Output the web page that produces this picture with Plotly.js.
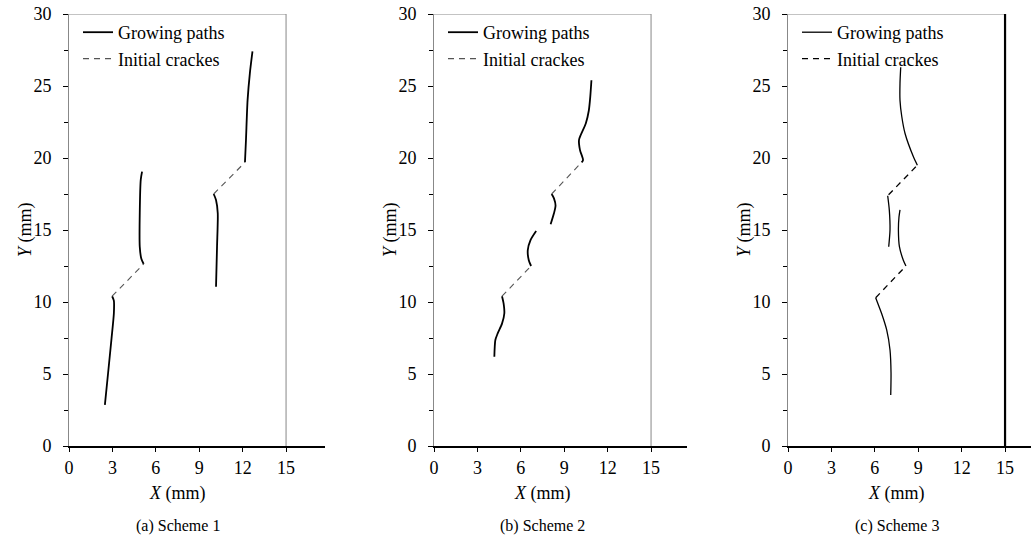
<!DOCTYPE html>
<html>
<head>
<meta charset="utf-8">
<script src="https://cdn.plot.ly/plotly-3.0.1.min.js"></script>
<style>
html,body{margin:0;padding:0;background:#fff;}
#chart{width:1031px;height:540px;}
</style>
</head>
<body>
<div id="chart"></div>
<script>
// ---- data (mm) ----
const specimenW = 15;
const specimenH = 30;

const aGrowX = [2.48, 2.70, 2.94, 3.10, 3.10, 2.98, null, 5.16, 5.00, 4.89, 4.89, 4.96, 5.05, null, 10.16, 10.23, 10.28, 10.16, 10.00, null, 12.16, 12.23, 12.34, 12.50, 12.68];
const aGrowY = [2.85, 5.05, 7.48, 9.20, 10.10, 10.40, null, 12.64, 13.00, 13.84, 16.20, 18.50, 19.05, null, 11.06, 13.84, 16.16, 17.08, 17.50, null, 19.70, 21.25, 24.00, 25.90, 27.40];
const aInitX = [2.98, 5.16, null, 10.00, 12.16];
const aInitY = [10.40, 12.64, null, 17.50, 19.70];

const bGrowX = [4.17, 4.24, 4.40, 4.70, 4.86, 4.81, 4.70, null, 6.71, 6.55, 6.48, 6.67, 7.06, null, 8.06, 8.29, 8.40, 8.29, 8.13, null, 10.20, 10.30, 10.09, 10.02, 10.14, 10.49, 10.70, 10.80, 10.88];
const bGrowY = [6.20, 7.36, 7.82, 8.50, 9.20, 9.90, 10.40, null, 12.50, 12.90, 13.60, 14.30, 14.93, null, 15.40, 16.16, 16.70, 17.20, 17.50, null, 19.70, 19.86, 20.55, 21.25, 21.60, 22.40, 23.30, 24.26, 25.40];
const bInitX = [4.70, 6.71, null, 8.13, 10.20];
const bInitY = [10.40, 12.50, null, 17.50, 19.70];

const cGrowX = [7.10, 7.12, 7.05, 6.82, 6.47, 6.17, 6.06, null, 8.15, 7.97, 7.70, 7.63, 7.67, 7.74, null, 6.96, 7.05, 7.00, 6.89, null, 8.94, 8.66, 8.09, 7.86, 7.74, 7.74, 7.79];
const cGrowY = [3.54, 5.05, 6.67, 8.06, 9.20, 10.00, 10.30, null, 12.50, 12.90, 13.84, 15.00, 15.90, 16.40, null, 13.84, 15.00, 16.40, 17.38, null, 19.50, 20.10, 21.70, 22.90, 24.00, 25.20, 26.30];
const cInitX = [6.06, 8.15, null, 6.95, 8.94];
const cInitY = [10.30, 12.50, null, 17.45, 19.50];

const xTickVals = [0, 3, 6, 9, 12, 15];
const yTickVals = [0, 5, 10, 15, 20, 25, 30];
const captions = ['(a) Scheme 1', '(b) Scheme 2', '(c) Scheme 3'];
const seriesNames = ['Growing paths', 'Initial crackes'];

// ---- layout constants ----
const W = 1031, H = 540;
const mT = 14, mB = 94;
const plotH = H - mT - mB;           // 432 px for 30 mm
const pxPerMM = 14.47;
const panels = [
  {left: 69, right: 325, grow: [aGrowX, aGrowY], init: [aInitX, aInitY], gw: 1.8, iw: 1.1, ic: '#555', rightW: 1, rightC: '#888'},
  {left: 434, right: 687, grow: [bGrowX, bGrowY], init: [bInitX, bInitY], gw: 1.8, iw: 1.1, ic: '#555', rightW: 1, rightC: '#888'},
  {left: 788, right: 1031, grow: [cGrowX, cGrowY], init: [cInitX, cInitY], gw: 1.3, iw: 1.3, ic: '#000', rightW: 2.2, rightC: '#000'}
];

const FONT = 'Liberation Serif';
const data = [];
const layout = {
  width: W, height: H,
  margin: {l: 0, r: 0, t: mT, b: mB, pad: 0},
  paper_bgcolor: '#fff', plot_bgcolor: '#fff',
  font: {family: FONT, size: 17, color: '#000'},
  shapes: [], annotations: []
};

panels.forEach((p, i) => {
  const n = i === 0 ? '' : String(i + 1);
  const xa = 'x' + n, ya = 'y' + n;
  const lg = 'legend' + n;
  data.push({
    type: 'scatter', mode: 'lines', x: p.grow[0], y: p.grow[1], xaxis: xa, yaxis: ya,
    name: seriesNames[0], legend: lg, connectgaps: false,
    line: {color: '#000', width: p.gw, shape: 'spline', smoothing: 0.7}
  });
  data.push({
    type: 'scatter', mode: 'lines', x: p.init[0], y: p.init[1], xaxis: xa, yaxis: ya,
    name: seriesNames[1], legend: lg, connectgaps: false,
    line: {color: p.ic, width: p.iw, dash: '6px,5px'}
  });
  const xRangeMax = (p.right - p.left) / pxPerMM;
  layout['xaxis' + n] = {
    domain: [p.left / W, p.right / W], anchor: ya,
    range: [0, xRangeMax], showgrid: false, zeroline: false,
    showline: true, linecolor: '#000', linewidth: 2,
    ticks: 'outside', ticklen: 4, tickwidth: 1, tickcolor: '#000',
    tickvals: xTickVals, ticktext: xTickVals.map(String),
    tickfont: {family: FONT, size: 18, color: '#000'}, fixedrange: true
  };
  layout['yaxis' + n] = {
    domain: [0, 1], anchor: xa,
    range: [0, specimenH], showgrid: false, zeroline: false,
    showline: true, linecolor: '#888', linewidth: 1,
    ticks: 'outside', ticklen: 5, tickwidth: 1, tickcolor: '#000',
    tickvals: yTickVals, ticktext: yTickVals.map(String),
    ticklabelstandoff: 8,
    minor: {dtick: 2.5, ticks: 'outside', ticklen: 4, tickcolor: '#000', showgrid: false},
    tickfont: {family: FONT, size: 18, color: '#000'}, fixedrange: true
  };
  // specimen boundary: top and right edges
  layout.shapes.push({type: 'line', xref: xa, yref: ya, x0: 0, x1: specimenW, y0: specimenH, y1: specimenH,
    line: {color: '#888', width: 1}});
  layout.shapes.push({type: 'line', xref: xa, yref: ya, x0: specimenW, x1: specimenW, y0: 0, y1: specimenH,
    line: {color: p.rightC, width: p.rightW}});
  // legend
  layout[lg] = {
    x: (p.left + 9) / W, y: (H - mB - mT) / plotH, xanchor: 'left', yanchor: 'top',
    bgcolor: 'rgba(0,0,0,0)', borderwidth: 0,
    font: {family: FONT, size: 18, color: '#000'}, tracegroupgap: 0
  };
  // axis titles and captions
  layout.annotations.push({xref: 'paper', yref: 'paper', x: (p.left - 44) / W, y: 0.5,
    text: '<i>Y</i> (mm)', textangle: -90, showarrow: false, xanchor: 'center', yanchor: 'middle',
    font: {family: FONT, size: 18, color: '#000'}});
  layout.annotations.push({xref: xa, yref: 'paper', x: specimenW / 2, y: -47 / plotH,
    text: '<i>X</i> (mm)', showarrow: false, xanchor: 'center', yanchor: 'middle',
    font: {family: FONT, size: 18, color: '#000'}});
  layout.annotations.push({xref: xa, yref: 'paper', x: specimenW / 2, y: -80 / plotH,
    text: captions[i], showarrow: false, xanchor: 'center', yanchor: 'middle',
    font: {family: FONT, size: 16, color: '#000'}});
});

Plotly.newPlot('chart', data, layout, {staticPlot: true, displayModeBar: false});
</script>
</body>
</html>
